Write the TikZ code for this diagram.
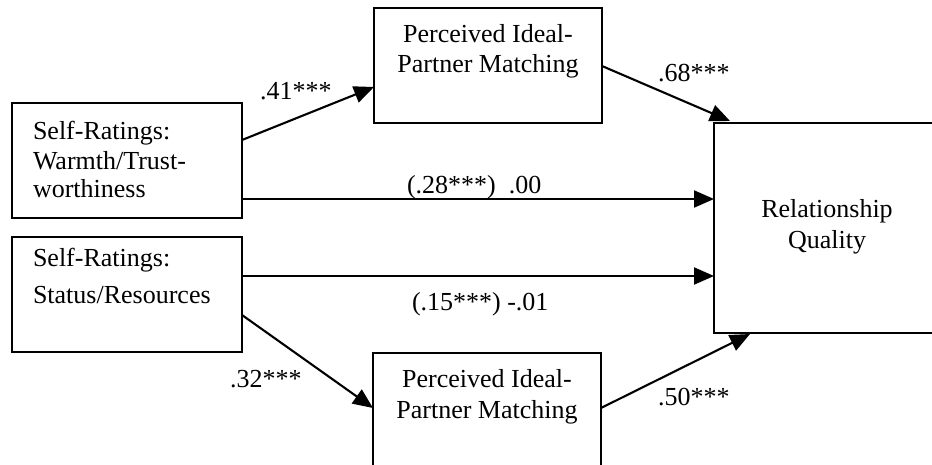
\documentclass[tikz,border=0pt]{standalone}
\usepackage{fontspec}
\setmainfont{Liberation Serif}
\usetikzlibrary{arrows.meta,calc}
\begin{document}
\begin{tikzpicture}[x=1pt,y=-1pt,
  box/.style={draw, line width=2.1pt, rectangle, inner sep=0pt, outer sep=0pt},
  txt/.style={inner sep=0pt, outer sep=0pt, font=\fontsize{26}{30}\selectfont},
  coef/.style={txt, anchor=base west},
  link/.style={line width=2.1pt, -{Triangle[length=20pt,width=17pt]}}]

\useasboundingbox (0,0) rectangle (932,465);
\clip (0,0) rectangle (932,465);

% boxes
\node[box, minimum width=228pt, minimum height=115pt] (pim1) at (488,65.5) {};
\node[box, minimum width=230pt, minimum height=115pt] (wt) at (127,160.5) {};
\node[box, minimum width=230pt, minimum height=115pt] (sr) at (127,294.5) {};
\node[box, minimum width=228pt, minimum height=115pt] (pim2) at (487,410.5) {};
\node[box, minimum width=226pt, minimum height=210pt] (rq) at (827,228) {};

% box texts
\node[txt, anchor=base] (pim1a) at (488,43) {Perceived Ideal-};
\node[txt, anchor=base] (pim1b) at (488,73) {Partner Matching};
\node[txt, anchor=base west] (wta) at (33,140) {Self-Ratings:};
\node[txt, anchor=base west] (wtb) at (33,170) {Warmth/Trust-};
\node[txt, anchor=base west] (wtc) at (33,198) {worthiness};
\node[txt, anchor=base west] (sra) at (33,266) {Self-Ratings:};
\node[txt, anchor=base west] (srb) at (33,303) {Status/Resources};
\node[txt, anchor=base] (pim2a) at (487,387) {Perceived Ideal-};
\node[txt, anchor=base] (pim2b) at (487,418) {Partner Matching};
\node[txt, anchor=base] (rqa) at (827,218) {Relationship};
\node[txt, anchor=base] (rqb) at (827,248) {Quality};

% paths
\draw[link] ($(wt.north east)+(0,37)$) -- ($(pim1.north west)+(0,79)$);
\draw[link] ($(pim1.north east)+(0,58)$) -- ($(rq.north west)+(16,-2)$);
\coordinate (s3) at ($(wt.north east)+(0,96)$);
\draw[link] (s3) -- (s3 -| rq.west);
\coordinate (s4) at ($(sr.north east)+(0,39)$);
\draw[link] (s4) -- (s4 -| rq.west);
\draw[link] ($(sr.north east)+(0,78)$) -- ($(pim2.north west)+(0,55)$);
\draw[link] ($(pim2.north east)+(0,55)$) -- ($(rq.south west)+(36,1)$);

% coefficients
\node[coef] (c41) at (260,100) {.41***};
\node[coef] (c68) at (658,82) {.68***};
\node[coef] (c28) at (407,194) {(.28***)\ \ .00};
\node[coef] (c15) at (412,310) {(.15***) -.01};
\node[coef] (c32) at (230,387) {.32***};
\node[coef] (c50) at (658,405) {.50***};
\end{tikzpicture}
\end{document}
